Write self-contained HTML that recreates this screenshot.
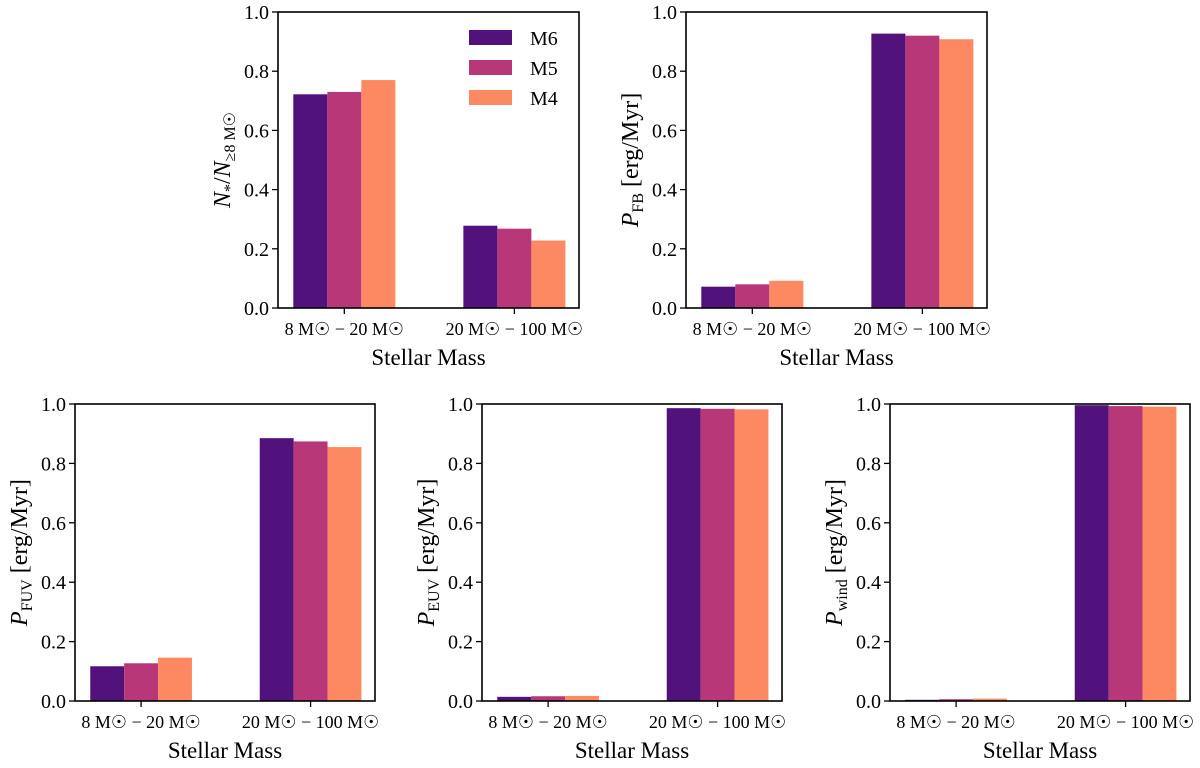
<!DOCTYPE html>
<html><head><meta charset="utf-8"><style>
body{margin:0;background:#fff}
svg, svg text{font-family:"Liberation Serif","DejaVu Serif",serif}
</style></head><body>
<svg id="fig" width="1200" height="763" viewBox="0 0 1200 763" xmlns="http://www.w3.org/2000/svg" font-family="Liberation Serif, serif"></svg>
<script>
const categories = ["8 M☉ − 20 M☉", "20 M☉ − 100 M☉"];
const seriesNames = ["M6", "M5", "M4"];
const colors = ["#51127c", "#b73779", "#fc8961"];
const yTicks = [0, 0.2, 0.4, 0.6, 0.8, 1.0];
const yTickLabels = ["0.0", "0.2", "0.4", "0.6", "0.8", "1.0"];
const nStarM6 = [0.722, 0.278];
const nStarM5 = [0.730, 0.268];
const nStarM4 = [0.770, 0.228];
const fbM6 = [0.072, 0.927];
const fbM5 = [0.080, 0.920];
const fbM4 = [0.092, 0.908];
const fuvM6 = [0.117, 0.885];
const fuvM5 = [0.127, 0.874];
const fuvM4 = [0.146, 0.855];
const euvM6 = [0.014, 0.986];
const euvM5 = [0.016, 0.984];
const euvM4 = [0.017, 0.982];
const windM6 = [0.004, 0.996];
const windM5 = [0.006, 0.993];
const windM4 = [0.008, 0.991];

const NS = "http://www.w3.org/2000/svg";
const svg = document.getElementById('fig');
function mk(tag, attrs, parent) {
  const e = document.createElementNS(NS, tag);
  for (const k in attrs) e.setAttribute(k, attrs[k]);
  if (tag === 'text') e.setAttribute('font-family', 'Liberation Serif, DejaVu Serif, serif');
  (parent || svg).appendChild(e);
  return e;
}
const panels = [
  {name:"n-star-panel", L:278, R:579, T:12, B:308, data:[nStarM6,nStarM5,nStarM4], kind:"n", legend:true},
  {name:"fb-panel", L:686, R:987, T:12, B:308, data:[fbM6,fbM5,fbM4], sub:"FB"},
  {name:"fuv-panel", L:75, R:375, T:404, B:701, data:[fuvM6,fuvM5,fuvM4], sub:"FUV"},
  {name:"euv-panel", L:482, R:782, T:404, B:701, data:[euvM6,euvM5,euvM4], sub:"EUV"},
  {name:"wind-panel", L:890, R:1190, T:404, B:701, data:[windM6,windM5,windM4], sub:"wind"}
];
panels.forEach(p => {
  const g = mk('g', {});
  
  
  const xmin = -0.39, xmax = 1.38;
  const xs = v => p.L + (v - xmin) / (xmax - xmin) * (p.R - p.L);
  const ys = v => p.B - v * (p.B - p.T);
  const bw = 0.2;
  p.data.forEach((ser, si) => {
    ser.forEach((v, ci) => {
      const c = ci + (si - 1) * bw;
      const x0 = xs(c - bw/2), x1 = xs(c + bw/2);
      const r = mk('rect', {x:x0, y:ys(v), width:x1-x0, height:ys(0)-ys(v), fill:colors[si]}, g);
      
      
    });
  });
  const fr = mk('rect', {x:p.L, y:p.T, width:p.R-p.L, height:p.B-p.T, fill:'none', stroke:'#000', 'stroke-width':1.6}, g);
  
  
  yTicks.forEach((t, i) => {
    mk('line', {x1:p.L-6, x2:p.L, y1:ys(t), y2:ys(t), stroke:'#000', 'stroke-width':1.3}, g);
    const tx = mk('text', {x:p.L-9, y:ys(t)+7, 'text-anchor':'end', 'font-size':20}, g);
    tx.textContent = yTickLabels[i];
    
    
  });
  categories.forEach((c, i) => {
    mk('line', {x1:xs(i), x2:xs(i), y1:p.B, y2:p.B+6, stroke:'#000', 'stroke-width':1.3}, g);
    const tx = mk('text', {x:xs(i), y:p.B+27, 'text-anchor':'middle', 'font-size':18}, g);
    tx.textContent = c;
    
    
  });
  const xl = mk('text', {x:(p.L+p.R)/2, y:p.B+57, 'text-anchor':'middle', 'font-size':23}, g);
  xl.textContent = 'Stellar Mass';
  
  
  const cy = (p.T + p.B) / 2, cx = p.L - 48;
  const yl = mk('text', {x:cx, y:cy, 'text-anchor':'middle', 'font-size':24, transform:`rotate(-90 ${cx} ${cy})`}, g);
  
  
  if (p.kind === 'n') {
    yl.innerHTML = '<tspan font-style="italic">N</tspan><tspan font-size="16" dy="5">*</tspan><tspan dy="-5">/</tspan><tspan font-style="italic">N</tspan><tspan font-size="16" dy="5">≥8 M☉</tspan>';
  } else {
    yl.innerHTML = '<tspan font-style="italic">P</tspan><tspan font-size="16" dy="5">' + p.sub + '</tspan><tspan dy="-5"> [erg/Myr]</tspan>';
  }
  if (p.legend) {
    seriesNames.forEach((n, i) => {
      const r = mk('rect', {x:469, y:30+i*30, width:43, height:15, fill:colors[i]}, g);
      
      
      const t = mk('text', {x:530, y:45+i*30, 'font-size':20}, g);
      t.textContent = n;
      
      
    });
  }
});
</script>
</body></html>
